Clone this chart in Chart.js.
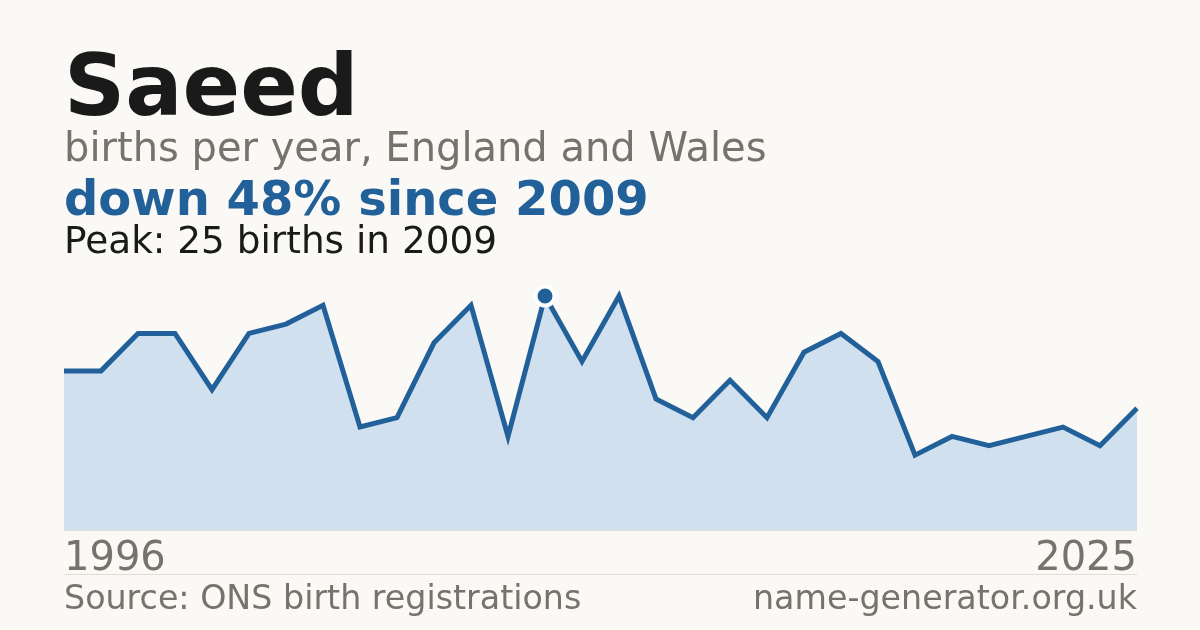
<!DOCTYPE html>
<html>
<head>
<meta charset="utf-8">
<script src="https://cdn.jsdelivr.net/npm/chart.js@4"></script>
<style>
  html, body { margin: 0; padding: 0; background: #faf9f5; }
  body { width: 1200px; height: 630px; position: relative; overflow: hidden; font-family: "DejaVu Sans", sans-serif; }
  .t { position: absolute; line-height: 1; white-space: nowrap; }
  #chart { position: absolute; left: 0; top: 0; }
  .rule { position: absolute; left: 64px; width: 1073px; height: 1px; background: #e0dcd4; }
</style>
</head>
<body>
<canvas id="chart" width="1200" height="630"></canvas>
<div class="rule" style="top:530px"></div>
<div class="rule" style="top:574px"></div>
<div class="t" id="title" style="left:64px; top:43px; font-size:85px; font-weight:bold; color:#1a1a1a;"></div>
<div class="t" id="subtitle" style="left:64px; top:127px; font-size:40px; color:#77726b;"></div>
<div class="t" id="headline" style="left:64px; top:174px; font-size:48px; font-weight:bold; color:#22609a;"></div>
<div class="t" id="peak" style="left:64px; top:222px; font-size:37.4px; color:#1a1a1a;"></div>
<div class="t" id="xstart" style="left:64px; top:536px; font-size:40px; color:#77726b;"></div>
<div class="t" id="xend" style="right:63px; top:536px; font-size:40px; color:#77726b;"></div>
<div class="t" id="source" style="left:64px; top:581px; font-size:33.3px; color:#77726b;"></div>
<div class="t" id="site" style="right:63px; top:581px; font-size:33.3px; color:#77726b;"></div>
<script>
const years = [1996,1997,1998,1999,2000,2001,2002,2003,2004,2005,2006,2007,2008,2009,2010,2011,2012,2013,2014,2015,2016,2017,2018,2019,2020,2021,2022,2023,2024,2025];
const births = [17,17,21,21,15,21,22,24,11,12,20,24,10,25,18,25,14,12,16,12,19,21,18,8,10,9,10,11,9,13];
const peakYear = 2009;
const titleText = "Saeed";
const subtitleText = "births per year, England and Wales";
const headlineText = "down 48% since 2009";
const peakText = "Peak: 25 births in 2009";
const startLabel = "1996";
const endLabel = "2025";
const sourceText = "Source: ONS birth registrations";
const siteText = "name-generator.org.uk";

document.getElementById('title').textContent = titleText;
document.getElementById('subtitle').textContent = subtitleText;
document.getElementById('headline').textContent = headlineText;
document.getElementById('peak').textContent = peakText;
document.getElementById('xstart').textContent = startLabel;
document.getElementById('xend').textContent = endLabel;
document.getElementById('source').textContent = sourceText;
document.getElementById('site').textContent = siteText;

const peakIdx = years.indexOf(peakYear);
const radii = years.map((y, i) => i === peakIdx ? 9.5 : 0);

new Chart(document.getElementById('chart'), {
  type: 'line',
  data: {
    labels: years.map(String),
    datasets: [{
      data: births,
      borderColor: '#22609a',
      borderWidth: 5,
      backgroundColor: '#d0e0ef',
      fill: 'origin',
      tension: 0,
      pointRadius: radii,
      pointHoverRadius: radii,
      pointBackgroundColor: '#22609a',
      pointBorderColor: '#ffffff',
      pointBorderWidth: 4,
      borderJoinStyle: 'miter',
      clip: false
    }]
  },
  options: {
    responsive: false,
    animation: false,
    devicePixelRatio: 1,
    layout: { padding: { left: 64, right: 63, top: 296, bottom: 100 } },
    plugins: { legend: { display: false }, tooltip: { enabled: false } },
    scales: {
      x: { display: false, offset: false },
      y: { display: false, min: 0, max: 25 }
    }
  }
});
</script>
</body>
</html>
